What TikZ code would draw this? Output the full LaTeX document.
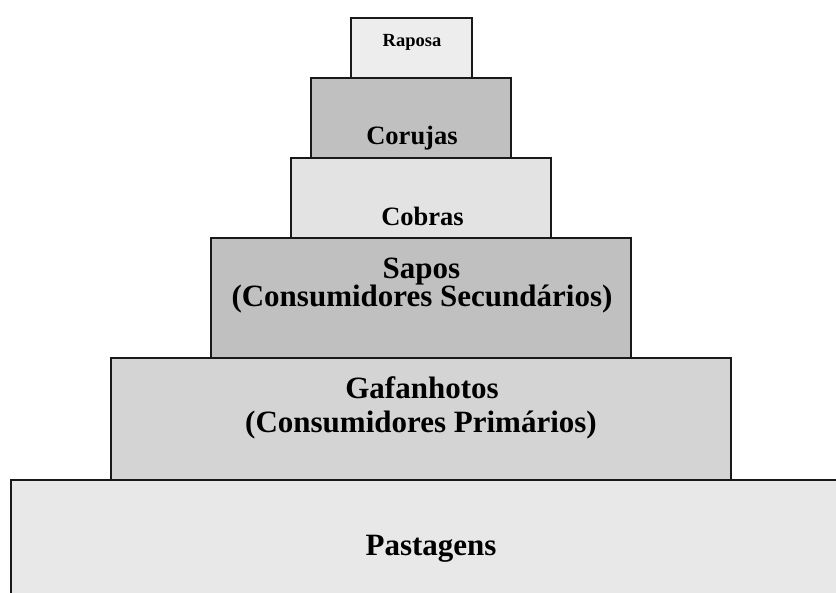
\documentclass[tikz,border=0pt]{standalone}
\usepackage{fontspec}
\setmainfont{Liberation Serif}
\definecolor{raposaC}{HTML}{EDEDED}
\definecolor{corujasC}{HTML}{C0C0C0}
\definecolor{cobrasC}{HTML}{E3E3E3}
\definecolor{saposC}{HTML}{C0C0C0}
\definecolor{gafC}{HTML}{D4D4D4}
\definecolor{pastC}{HTML}{E8E8E8}
\tikzset{
  level/.style={draw=black!90, line width=1.6pt},
  lbl/.style={anchor=base, inner sep=0pt, font=\bfseries},
}
\begin{document}
\begin{tikzpicture}[x=1pt,y=-1pt]
\useasboundingbox (0,0) rectangle (836,593);
\clip (0,0) rectangle (836,593);
% levels (bottom first)
\path[level, fill=pastC] (11,480) rectangle (851,620);
\path[level, fill=gafC] (111,358) rectangle (731,480);
\path[level, fill=saposC] (211,238) rectangle (631,358);
\path[level, fill=cobrasC] (291,158) rectangle (551,238);
\path[level, fill=corujasC] (311,78) rectangle (511,158);
\path[level, fill=raposaC] (351,18) rectangle (472,78);
% labels
\node[lbl, font=\bfseries\fontsize{18.5}{20}\selectfont] (raposa) at (412,47) {Raposa};
\node[lbl, font=\bfseries\fontsize{26.5}{28}\selectfont] (corujas) at (412,145) {Corujas};
\node[lbl, font=\bfseries\fontsize{26.5}{28}\selectfont] (cobras) at (422.5,225.5) {Cobras};
\node[lbl, font=\bfseries\fontsize{31}{32}\selectfont] (sapos1) at (421.5,278.5) {Sapos};
\node[lbl, font=\bfseries\fontsize{31}{32}\selectfont] (sapos2) at (422,307) {(Consumidores Secundários)};
\node[lbl, font=\bfseries\fontsize{31}{32}\selectfont] (gaf1) at (422,399) {Gafanhotos};
\node[lbl, font=\bfseries\fontsize{31}{32}\selectfont] (gaf2) at (421,433) {(Consumidores Primários)};
\node[lbl, font=\bfseries\fontsize{31}{32}\selectfont] (past) at (431,555) {Pastagens};
\end{tikzpicture}
\end{document}
